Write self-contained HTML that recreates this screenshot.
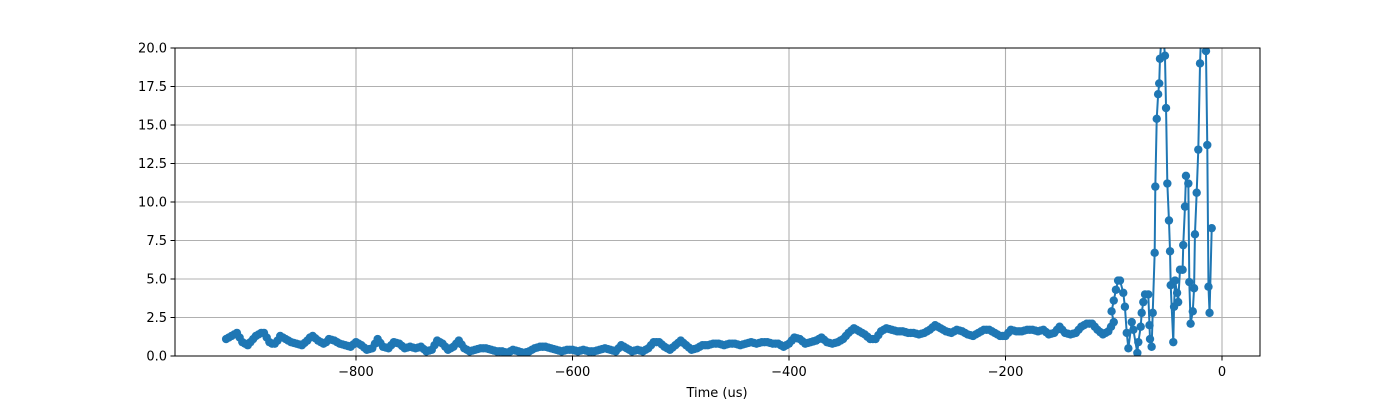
<!DOCTYPE html>
<html><head><meta charset="utf-8"><style>
body{margin:0;background:#fff}
svg{display:block;font-family:"DejaVu Sans","Liberation Sans",sans-serif}
</style></head><body>
<svg id="chart" width="1400" height="400" viewBox="0 0 1400 400" xmlns="http://www.w3.org/2000/svg">
<defs><clipPath id="plotclip"><rect x="175" y="48" width="1085" height="308"/></clipPath></defs>
<rect x="0" y="0" width="1400" height="400" fill="#fff"/>
<g id="grid"></g>
<g id="series" clip-path="url(#plotclip)"></g>
<rect x="175" y="48" width="1085" height="308" fill="none" stroke="#000" stroke-width="1"/>
<g id="axes"></g>
<text x="717" y="397" font-size="13" text-anchor="middle">Time (us)</text>
</svg>
<script>
const baseStart = -920;
const baseStep = 2.5;
const baseValues = [
1.1,1.2,1.3,1.4,1.5,1.2,0.9,0.8,0.7,0.9,1.1,1.3,1.4,1.5,1.5,1.2,0.9,0.8,0.8,1.0,
1.3,1.2,1.1,1.0,0.9,0.85,0.8,0.75,0.7,0.85,1.0,1.2,1.3,1.15,1.0,0.9,0.8,0.9,1.1,1.05,
1.0,0.9,0.8,0.75,0.7,0.65,0.6,0.75,0.9,0.8,0.7,0.55,0.4,0.45,0.5,0.8,1.1,0.85,0.6,0.55,
0.5,0.7,0.9,0.85,0.8,0.65,0.5,0.55,0.6,0.55,0.5,0.55,0.6,0.45,0.3,0.35,0.4,0.7,1.0,0.9,
0.8,0.6,0.4,0.5,0.6,0.8,1.0,0.75,0.5,0.4,0.3,0.35,0.4,0.45,0.5,0.5,0.5,0.45,0.4,0.35,
0.3,0.3,0.3,0.25,0.2,0.3,0.4,0.35,0.3,0.25,0.2,0.25,0.3,0.4,0.5,0.55,0.6,0.6,0.6,0.55,
0.5,0.45,0.4,0.35,0.3,0.35,0.4,0.4,0.4,0.35,0.3,0.35,0.4,0.35,0.3,0.3,0.3,0.35,0.4,0.45,
0.5,0.45,0.4,0.35,0.3,0.5,0.7,0.6,0.5,0.4,0.3,0.35,0.4,0.35,0.3,0.4,0.5,0.7,0.9,0.9,
0.9,0.75,0.6,0.5,0.4,0.55,0.7,0.85,1.0,0.85,0.7,0.55,0.4,0.45,0.5,0.6,0.7,0.7,0.7,0.75,
0.8,0.8,0.8,0.75,0.7,0.75,0.8,0.8,0.8,0.75,0.7,0.75,0.8,0.85,0.9,0.85,0.8,0.85,0.9,0.9,
0.9,0.85,0.8,0.8,0.8,0.7,0.6,0.7,0.8,1.0,1.2,1.15,1.1,0.95,0.8,0.85,0.9,0.95,1.0,1.1,
1.2,1.05,0.9,0.85,0.8,0.85,0.9,1.0,1.1,1.3,1.5,1.65,1.8,1.7,1.6,1.5,1.4,1.25,1.1,1.1,
1.1,1.35,1.6,1.7,1.8,1.75,1.7,1.65,1.6,1.6,1.6,1.55,1.5,1.5,1.5,1.45,1.4,1.45,1.5,1.6,
1.7,1.85,2.0,1.9,1.8,1.7,1.6,1.55,1.5,1.6,1.7,1.65,1.6,1.5,1.4,1.35,1.3,1.4,1.5,1.6,
1.7,1.7,1.7,1.6,1.5,1.4,1.3,1.3,1.3,1.5,1.7,1.65,1.6,1.6,1.6,1.65,1.7,1.7,1.7,1.65,
1.6,1.65,1.7,1.55,1.4,1.45,1.5,1.7,1.9,1.7,1.5,1.45,1.4,1.45,1.5,1.7,1.9,2.0,2.1,2.1,
2.1,1.9,1.7,1.55,1.4,1.5,1.6,1.9,2.2];
const spikeTimes = [-102,-100,-98,-96,-94.2,-91.2,-89.7,-88,-86.5,-83.4,-81.9,-78.2,-77.3,-75.1,-74.2,-72.7,-71.1,-68.1,-67,-66.5,-65,-64,-62.2,-61.6,-60.3,-59,-58,-57.3,-55,-52.7,-51.7,-50.5,-49,-48,-47.4,-45,-44.3,-43.4,-41.5,-40.5,-38.8,-36.4,-35.8,-34.2,-33.3,-31.1,-30.2,-29,-27,-25.8,-25,-23.4,-21.9,-20.3,-19,-14.8,-13.6,-12.5,-11.5,-9.5];
const spikeValues = [2.9,3.6,4.3,4.9,4.9,4.1,3.2,1.5,0.5,2.2,1.7,0.2,0.9,1.9,2.8,3.5,4.0,4.0,2.0,1.1,0.6,2.8,6.7,11.0,15.4,17.0,17.7,19.3,21.5,19.5,16.1,11.2,8.8,6.8,4.6,0.9,3.2,4.9,4.1,3.5,5.6,5.6,7.2,9.7,11.7,11.2,4.8,2.1,2.9,4.4,7.9,10.6,13.4,19.0,21.5,19.8,13.7,4.5,2.8,8.3];
const xTicks = [-800,-600,-400,-200,0];
const xTickLabels = ["\u2212800","\u2212600","\u2212400","\u2212200","0"];
const yTicks = [0,2.5,5,7.5,10,12.5,15,17.5,20];
const yTickLabels = ["0.0","2.5","5.0","7.5","10.0","12.5","15.0","17.5","20.0"];

const X0=175,X1=1260,Y0=356,Y1=48;
const xMin=-967.2,xMax=35.1,yMin=0,yMax=20;
const sx=v=>X0+(v-xMin)/(xMax-xMin)*(X1-X0);
const sy=v=>Y0-(v-yMin)/(yMax-yMin)*(Y0-Y1);
const NS="http://www.w3.org/2000/svg";
function mk(tag,attrs,parent){const e=document.createElementNS(NS,tag);for(const k in attrs)e.setAttribute(k,attrs[k]);parent.appendChild(e);return e;}
const grid=document.getElementById('grid'),axes=document.getElementById('axes'),series=document.getElementById('series');
xTicks.forEach((t,i)=>{
  const x=sx(t);
  const g=mk('line',{x1:x,x2:x,y1:Y1,y2:Y0,stroke:'#b0b0b0','stroke-width':1.1},grid);
  
  
  const tk=mk('line',{x1:x,x2:x,y1:Y0,y2:Y0+4.5,stroke:'#000','stroke-width':1},axes);
  
  
  const tx=mk('text',{x:x,y:Y0+20,'font-size':13,'text-anchor':'middle'},axes);
  tx.textContent=xTickLabels[i];
  
  
});
yTicks.forEach((t,i)=>{
  const y=sy(t);
  const g=mk('line',{x1:X0,x2:X1,y1:y,y2:y,stroke:'#b0b0b0','stroke-width':1.1},grid);
  
  
  const tk=mk('line',{x1:X0-4.5,x2:X0,y1:y,y2:y,stroke:'#000','stroke-width':1},axes);
  
  
  const tx=mk('text',{x:X0-8,y:y+4.5,'font-size':13,'text-anchor':'end'},axes);
  tx.textContent=yTickLabels[i];
  
  
});
const times=[],values=[];
baseValues.forEach((v,i)=>{times.push(baseStart+i*baseStep);values.push(v);});
spikeTimes.forEach((t,i)=>{times.push(t);values.push(spikeValues[i]);});
const pts=times.map((t,i)=>sx(t).toFixed(2)+','+sy(values[i]).toFixed(2)).join(' ');
const line=mk('polyline',{points:pts,fill:'none',stroke:'#1f77b4','stroke-width':2,'stroke-linejoin':'round'},series);


times.forEach((t,i)=>{
  const c=mk('circle',{cx:sx(t),cy:sy(values[i]),r:4.2,fill:'#1f77b4'},series);
  
  
});
</script>
</body></html>
